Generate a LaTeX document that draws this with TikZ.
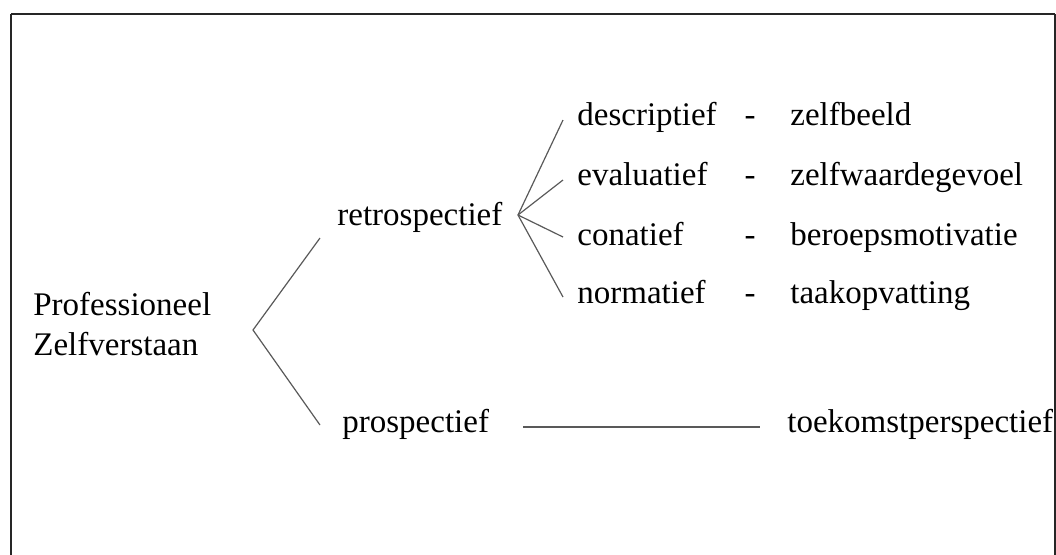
\documentclass[tikz,border=0pt]{standalone}
\usepackage{fontspec}
\setmainfont{Liberation Serif}
\usepackage{tikz}
\usetikzlibrary{positioning}

\begin{document}
\begin{tikzpicture}[x=0.5pt, y=-0.5pt,
    term/.style={font=\fontsize{16.5}{20}\selectfont, anchor=base west, inner sep=0pt},
    sep/.style={font=\fontsize{16.5}{20}\selectfont, anchor=base, inner sep=0pt},
    branch/.style={black!65, line width=0.6pt}]
        \useasboundingbox (0,0) rectangle (1056,554);
        \draw[black!85, line width=1pt] (11,14) -- (1055,14) (11,14) -- (11,560) (1055,14) -- (1055,560);
        % left column
        \node[term, align=left] (prof) at (33,355) {Professioneel\\Zelfverstaan};
        \node[term] (retro) at (337,225) {retrospectief};
        \node[term] (prosp) at (342,432) {prospectief};
        % facets of the retrospective part
        \node[term] (desc) at (577,125) {descriptief};
        \node[term] (eval) at (577,185) {evaluatief};
        \node[term] (conat) at (577,245) {conatief};
        \node[term] (norm) at (577,303) {normatief};
        \node[sep] (d1) at (750,125) {-};
        \node[sep] (d2) at (750,185) {-};
        \node[sep] (d3) at (750,245) {-};
        \node[sep] (d4) at (750,303) {-};
        \node[term] (beeld) at (790,125) {zelfbeeld};
        \node[term] (waarde) at (790,185) {zelfwaardegevoel};
        \node[term] (motiv) at (790,245) {beroepsmotivatie};
        \node[term] (taak) at (790,303) {taakopvatting};
        \node[term] (toek) at (787,432) {toekomstperspectief};
        % branch points
        \coordinate (fork) at (253,330);
        \coordinate (retroend) at (320,238);
        \coordinate (prospend) at (320,425);
        \coordinate (rfork) at (518,215);
        \coordinate (descend) at (563,120);
        \coordinate (evalend) at (563,180);
        \coordinate (conatend) at (563,237);
        \coordinate (normend) at (563,297);
        \coordinate (lineA) at (523,427);
        \coordinate (lineB) at (760,427);
        \draw[branch] (retroend) -- (fork) -- (prospend);
        \draw[branch] (rfork) -- (descend);
        \draw[branch] (rfork) -- (evalend);
        \draw[branch] (rfork) -- (conatend);
        \draw[branch] (rfork) -- (normend);
        \draw[branch] (lineA) -- (lineB);
      \end{tikzpicture}
\end{document}
